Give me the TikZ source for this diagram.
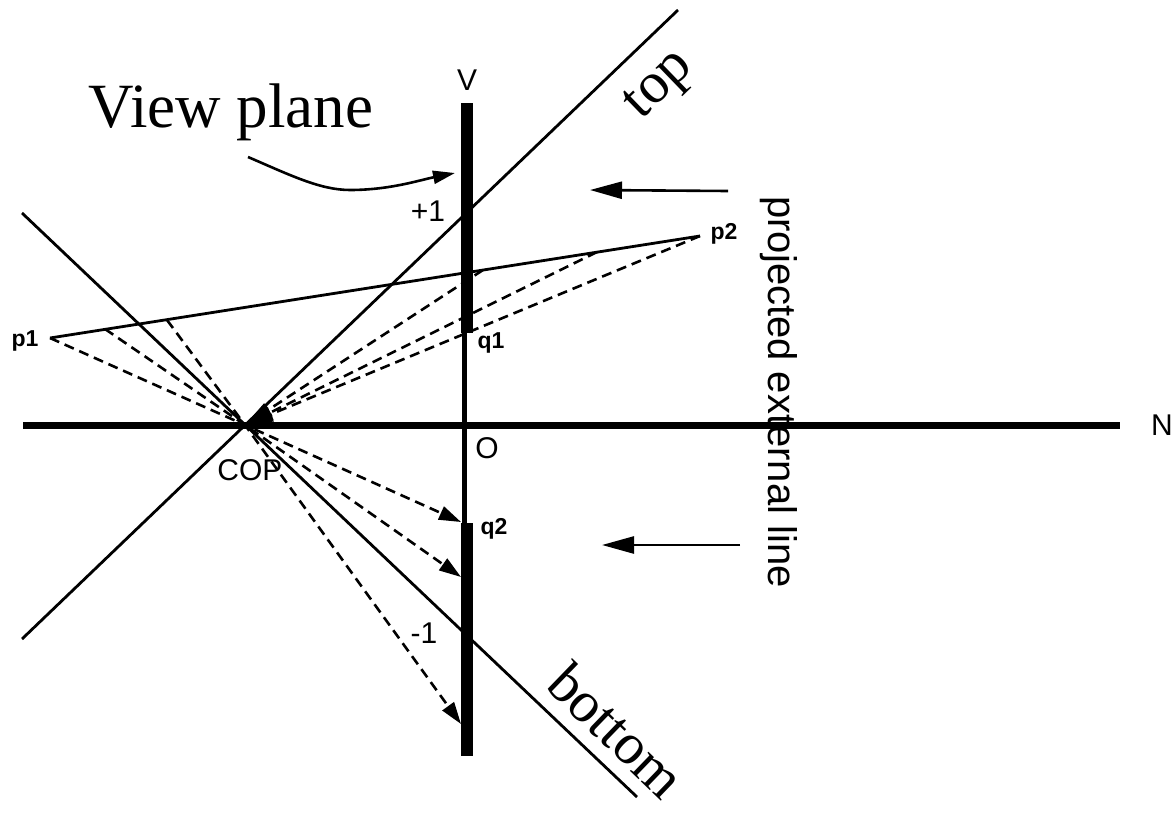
\documentclass[tikz,border=0pt]{standalone}
\usepackage{fontspec}
\setmainfont{Liberation Sans}
\newfontfamily\seriffont{Liberation Serif}
\usetikzlibrary{arrows.meta}
\begin{document}
\begin{tikzpicture}[x=1pt,y=-1pt,
  thinline/.style={line width=2.8pt},
  dashline/.style={line width=2.6pt, dash pattern=on 10pt off 6pt},
  dtip/.style={-{Triangle[length=22pt,width=14pt]}},
  ctip/.style={-{Triangle[length=28pt,width=15pt]}},
  rtip/.style={-{Triangle[length=32pt,width=17pt]}},
  lbl/.style={font=\fontsize{30}{36}\selectfont, inner sep=0pt},
  ptlbl/.style={font=\bfseries\fontsize{23}{28}\selectfont, inner sep=0pt},
  big/.style={font=\seriffont\fontsize{63}{70}\selectfont, inner sep=0pt},
  slant/.style={font=\seriffont\fontsize{58}{64}\selectfont, inner sep=0pt}]
\useasboundingbox (0,0) rectangle (1172,827);

% key points
\coordinate (COP) at (245,425);
\coordinate (Nl) at (23,425);
\coordinate (Nr) at (1120,425);
\coordinate (Vt) at (464,103);
\coordinate (Vb) at (464,756);
\coordinate (Tu) at (467,103);
\coordinate (Tq1) at (467,333);
\coordinate (Tq2) at (467,523);
\coordinate (Tb) at (467,756);
\coordinate (topL) at (22,639);
\coordinate (topR) at (678,10);
\coordinate (botL) at (22,213);
\coordinate (botR) at (637,797);
\coordinate (P1) at (50,338);
\coordinate (P2) at (700,236);
\coordinate (A) at (105,329);
\coordinate (B) at (167,320);
\coordinate (C) at (597,252);
\coordinate (D) at (483,270);
\coordinate (tq2) at (461,522);
\coordinate (tA) at (461,577);
\coordinate (tB) at (461,724);

% axes
\draw[line width=7pt] (Nl) -- (Nr);
\draw[line width=5pt] (Vt) -- (Vb);
\draw[line width=12pt] (Tu) -- (Tq1);
\draw[line width=12pt] (Tq2) -- (Tb);

% frustum lines
\draw[thinline] (topL) -- (topR);
\draw[thinline] (botL) -- (botR);

% line p1 p2
\draw[thinline] (P1) -- (P2);

% projectors from the left
\draw[dashline,dtip] (P1) -- (COP) -- (tq2);
\draw[dashline,dtip] (A) -- (COP) -- (tA);
\draw[dashline,dtip] (B) -- (COP) -- (tB);

% projectors from the right
\draw[dashline,ctip] (P2) -- (COP);
\draw[dashline,ctip] (C) -- (COP);
\draw[dashline,ctip] (D) -- (COP);

% view plane pointer
\coordinate (vpS) at (248,157);
\coordinate (vpM) at (350,190);
\coordinate (vpE) at (455,173);
\draw[line width=2.6pt,-{Triangle[length=22pt,width=13pt]}]
  (vpS) .. controls (290,175) and (320,190) .. (vpM)
        .. controls (390,190) and (420,180) .. (vpE);

% right arrows
\coordinate (a1s) at (728,191);
\coordinate (a1e) at (590,190);
\coordinate (a2s) at (740,545);
\coordinate (a2e) at (602,545);
\draw[line width=2.6pt,rtip] (a1s) -- (a1e);
\draw[line width=2.6pt,rtip] (a2s) -- (a2e);

% labels
\node[lbl] (lV) at (467,80) {V};
\node[lbl] (lN) at (1162,425) {N};
\node[lbl] (lO) at (487,448) {O};
\node[lbl] (lCOP) at (250,470) {COP};
\node[lbl] (lp1n) at (428,211) {+1};
\node[lbl] (lm1n) at (424,633) {-1};
\node[ptlbl] (lp1) at (25,341) {p1};
\node[ptlbl] (lp2) at (724,234) {p2};
\node[ptlbl] (lq1) at (491,343) {q1};
\node[ptlbl] (lq2) at (494,529) {q2};
\node[big,anchor=base] (lview) at (231,127) {View plane};
\node[slant,rotate=44] (ltop) at (661,87) {top};
\node[slant,rotate=-44] (lbot) at (617,730) {bottom};
\node[font=\fontsize{40}{46}\selectfont, inner sep=0pt, rotate=-90] (lproj) at (779,392) {projected external line};
\end{tikzpicture}
\end{document}
